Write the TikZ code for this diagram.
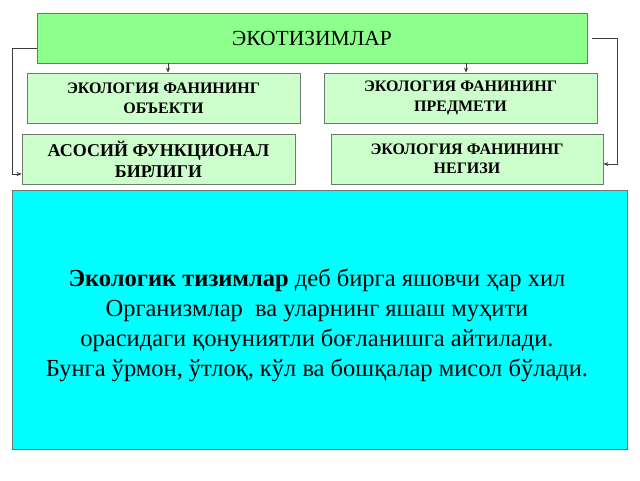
\documentclass[tikz,border=0pt]{standalone}
\usepackage{fontspec}
\setmainfont{Liberation Serif}
\usetikzlibrary{arrows.meta}
\definecolor{topgreen}{RGB}{140,255,140}
\definecolor{palegreen}{RGB}{204,255,204}
\definecolor{boxedge}{RGB}{110,120,110}
\definecolor{cyanfill}{RGB}{0,255,255}
\definecolor{lineclr}{RGB}{60,60,60}
\tikzset{
  topbox/.style={draw=boxedge, fill=topgreen, line width=0.8pt, minimum width=550pt, minimum height=50pt, inner sep=0pt, font=\fontsize{21.5}{24}\selectfont},
  subbox/.style={draw=boxedge, fill=palegreen, line width=0.8pt, minimum width=273pt, minimum height=50pt, inner sep=0pt, align=center, font=\fontsize{16}{20}\selectfont\bfseries},
  mainbox/.style={draw=boxedge, fill=cyanfill, line width=0.8pt, minimum width=615pt, minimum height=259pt, inner sep=0pt},
  maintext/.style={align=center, inner sep=0pt, font=\fontsize{24.5}{30}\selectfont},
  conn/.style={draw=lineclr, line width=0.6pt, -{Stealth[length=5pt,width=4pt]}}
}
\begin{document}
\begin{tikzpicture}[x=1pt,y=-1pt]
\useasboundingbox (0,0) rectangle (640,480);
\node[topbox] (top) at (312,38) {\raisebox{-3pt}{ЭКОТИЗИМЛАР}};
\node[subbox] (obj) at (163.5,98) {ЭКОЛОГИЯ ФАНИНИНГ\\ОБЪЕКТИ};
\node[subbox] (pred) at (460.5,98) {ЭКОЛОГИЯ ФАНИНИНГ\\ПРЕДМЕТИ};
\node[subbox, font=\fontsize{18}{21}\selectfont\bfseries] (asos) at (158.5,159) {АСОСИЙ ФУНКЦИОНАЛ\\БИРЛИГИ};
\node[subbox, minimum width=272pt, font=\fontsize{16}{18.5}\selectfont\bfseries] (neg) at (467,159) {ЭКОЛОГИЯ ФАНИНИНГ\\НЕГИЗИ};
\node[mainbox] (main) at (319.5,319.5) {};
\node[maintext] (mtext) at (317,325) {\textbf{Экологик тизимлар} деб бирга яшовчи ҳар хил\\
Организмлар\ \ ва уларнинг яшаш муҳити\\
орасидаги қонуниятли боғланишга айтилади.\\
Бунга ўрмон, ўтлоқ, кўл ва бошқалар мисол бўлади.};
\coordinate (lA) at (12,48);
\coordinate (lB) at (12,174);
\coordinate (rA) at (592,38);
\coordinate (rB) at (617,38);
\coordinate (rC) at (617,164);
\draw[conn] (top.south -| 168,0) -- (obj.north -| 168,0);
\draw[conn] (top.south -| 466,0) -- (pred.north -| 466,0);
\draw[conn] (top.west |- lA) -- (lA) -- (lB) -- (asos.west |- lB);
\draw[conn] (rA) -- (rB) -- (rC) -- (neg.east |- rC);
\end{tikzpicture}
\end{document}
